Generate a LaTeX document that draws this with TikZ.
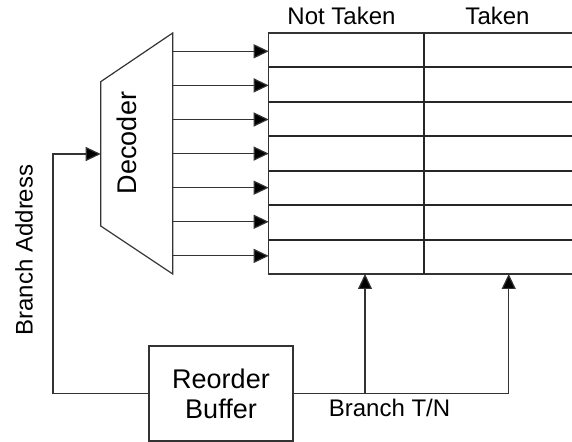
\documentclass[tikz,border=0pt]{standalone}
\usepackage{fontspec}
\setmainfont{Liberation Sans}
\usetikzlibrary{arrows.meta}
\begin{document}
\begin{tikzpicture}[x=0.5pt,y=-0.5pt,
  thinline/.style={line width=0.6pt, draw=black!80},
  tbl/.style={line width=1pt, draw=black!85},
  arr/.style={thinline,-{Triangle[length=7.5pt,width=7pt,fill=black]}},
  lbl/.style={font=\fontsize{12}{14}\selectfont, inner sep=0pt},
  big/.style={font=\fontsize{13.5}{15}\selectfont, inner sep=0pt, align=center}]
\useasboundingbox (0,0) rectangle (572,442);
% decoder
\coordinate (d1) at (100.7,81.7);
\coordinate (d2) at (172.7,33);
\coordinate (d3) at (172.7,274);
\coordinate (d4) at (100.7,226);
\draw[thinline] (d1)--(d2)--(d3)--(d4)--cycle;
\node[big,rotate=90] (dec) at (127,143) {Decoder};
% table
\coordinate (tl) at (268.7,33);
\coordinate (bl) at (268.7,274);
\coordinate (tr) at (572,33);
\coordinate (br) at (572,274);
\draw[thinline] (tr) -- (tl) -- (bl) -- (br);
\foreach \i in {1,...,6}{
  \pgfmathsetmacro{\yy}{33+34.43*\i}
  \coordinate (rl\i) at (268.7,\yy);
  \coordinate (rr\i) at (572,\yy);
  \draw[tbl] (rl\i) -- (rr\i);
}
\coordinate (dvt) at (424.3,33);
\coordinate (dvb) at (424.3,274);
\draw[tbl] (dvt) -- (dvb);
\node[lbl,anchor=base] (nt) at (341.5,25) {Not Taken};
\node[lbl,anchor=base] (tk) at (497.5,25) {Taken};
% decoder outputs
\foreach \i in {0,...,6}{
  \pgfmathsetmacro{\yy}{51.3+34.1*\i}
  \coordinate (o\i) at (172.7,\yy);
  \coordinate (in\i) at (268.7,\yy);
  \draw[arr] (o\i) -- (in\i);
}
% reorder buffer
\node[draw, thinline, minimum width=72pt, minimum height=47.5pt, big] (rob) at (221,393.5) {Reorder\\Buffer};
% branch address
\coordinate (ba1) at (53,393.5);
\coordinate (ba2) at (53,154);
\coordinate (decin) at (100.7,154);
\draw[arr] (rob.west) -- (ba1) -- (ba2) -- (decin);
\node[lbl,rotate=90] (balbl) at (24,250) {Branch Address};
% branch T/N
\coordinate (j1) at (365,393.5);
\coordinate (j2) at (508.7,393.5);
\coordinate (tn1) at (365,274);
\coordinate (tn2) at (508.7,274);
\draw[thinline] (rob.east) -- (j2);
\draw[arr] (j1) -- (tn1);
\draw[arr] (j2) -- (tn2);
\node[lbl,anchor=base] (tnlbl) at (389.5,416.7) {Branch T/N};
\end{tikzpicture}
\end{document}
